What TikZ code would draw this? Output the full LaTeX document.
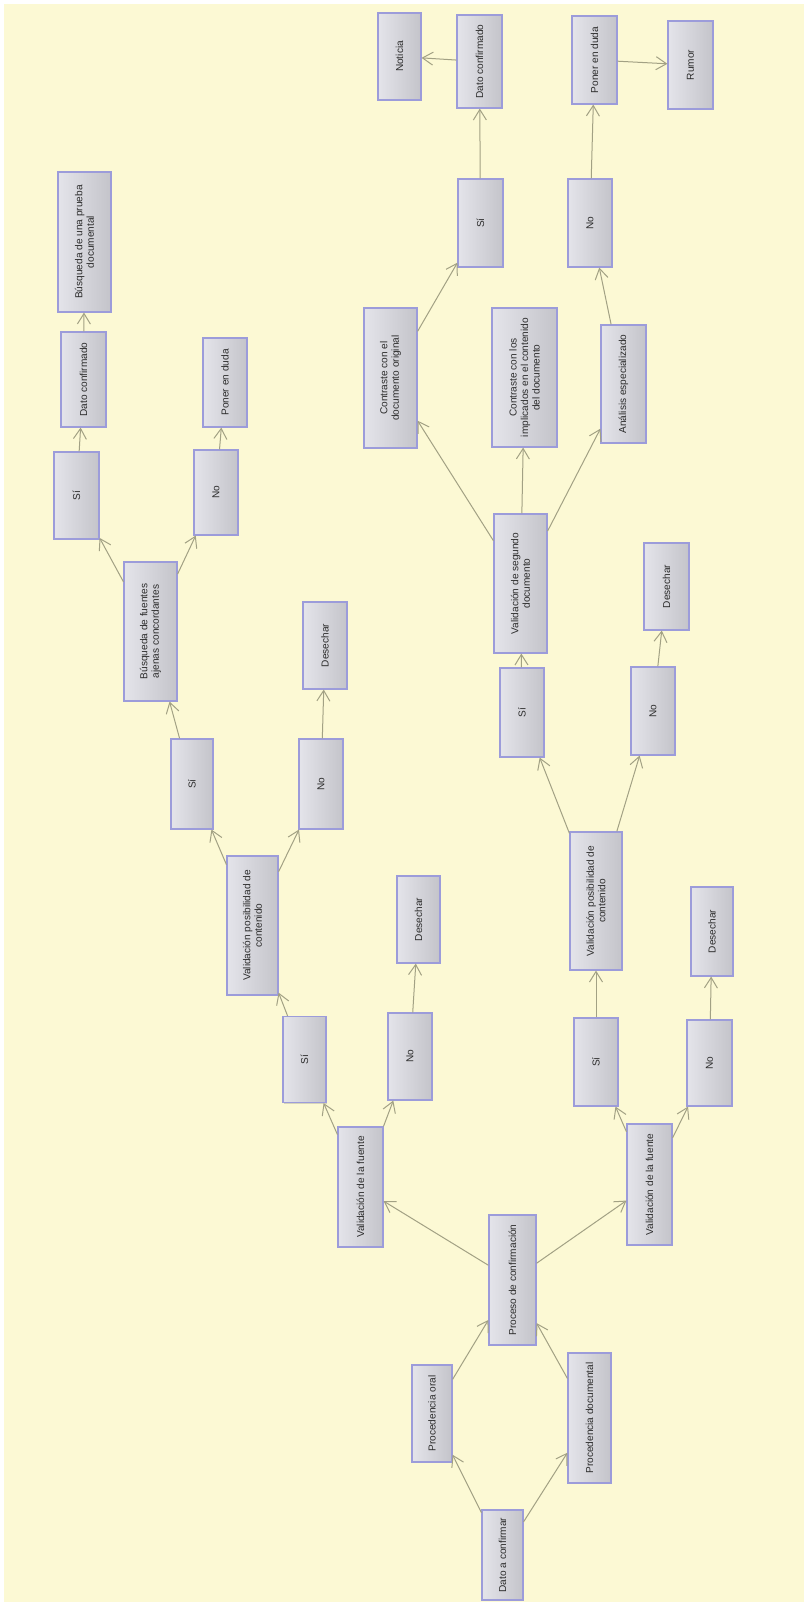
\documentclass[tikz,border=0pt]{standalone}
\usepackage{fontspec}
\setmainfont{Liberation Sans}
\usepackage{tikz}
\usetikzlibrary{arrows.meta,shadows}
\definecolor{fondo}{HTML}{FCF9D4}
\definecolor{borde}{HTML}{9C9CDA}
\definecolor{flechagris}{HTML}{A2A184}
\definecolor{texto}{HTML}{2C2C2C}
\definecolor{claro}{HTML}{E4E4EA}
\definecolor{sombra}{HTML}{C4C4CA}

\begin{document}
\begin{tikzpicture}[x=0.4mm,y=-0.4mm,
  caja/.style 2 args={draw=borde,line width=0.45mm,rotate=90,left color=claro,middle color=white,right color=sombra,
    drop shadow={shadow xshift=0.5mm,shadow yshift=-0.4mm,opacity=0.3},
    minimum height=#1*0.4mm,minimum width=#2*0.4mm,inner sep=0.8mm,align=center,
    font=\fontsize{11.5}{13}\selectfont,text=texto},
  flecha/.style={draw=flechagris,line width=0.4mm,-{Straight Barb[length=4.2mm,width=5.2mm]}}]
\useasboundingbox (0,0) rectangle (804,1602);
\fill[white] (0,0) rectangle (804,1602);
\fill[fondo] (4,4) rectangle (804,1602);

\node[caja={41}{90}] (dato) at (502.5,1555) {Dato a confirmar};
\node[caja={40}{97}] (oral) at (432,1413.5) {Procedencia oral};
\node[caja={43}{130}] (docum) at (589.5,1418) {Procedencia documental};
\node[caja={47}{130}] (proceso) at (512.5,1280) {Proceso de confirmación};

\node[caja={45}{120}] (fuenteA) at (360.5,1187) {Validación de la fuente};
\node[caja={43}{86}] (siA) at (304.5,1059.5) {Sí};
\node[caja={44}{87}] (noA) at (410,1056.5) {No};
\node[caja={43}{87}] (desA) at (418.5,919.5) {Desechar};
\node[caja={51}{139}] (posibA) at (252.5,925.5) {Validación posibilidad de\\contenido};
\node[caja={42}{90}] (siB) at (192,784) {Sí};
\node[caja={44}{90}] (noB) at (321,784) {No};
\node[caja={44}{87}] (desB) at (325,645.5) {Desechar};
\node[caja={53}{139}] (busqueda) at (150.5,631.5) {Búsqueda de fuentes\\ajenas concordantes};
\node[caja={45}{87}] (siC) at (76.5,495.5) {Sí};
\node[caja={44}{85}] (noC) at (216,492.5) {No};
\node[caja={45}{95}] (confA) at (83.5,379.5) {Dato confirmado};
\node[caja={44}{89}] (dudaA) at (225,382.5) {Poner en duda};
\node[caja={53}{140}] (prueba) at (84.5,242) {Búsqueda de una prueba\\documental};

\node[caja={45}{121}] (fuenteB) at (649.5,1184.5) {Validación de la fuente};
\node[caja={44}{88}] (siD) at (596,1062) {Sí};
\node[caja={45}{86}] (noD) at (709.5,1063) {No};
\node[caja={42}{89}] (desD) at (712,931.5) {Desechar};
\node[caja={52}{138}] (posibB) at (596,901) {Validación posibilidad de\\contenido};
\node[caja={44}{89}] (siE) at (522,712.5) {Sí};
\node[caja={44}{88}] (noE) at (653,711) {No};
\node[caja={45}{87}] (desE) at (666.5,586.5) {Desechar};
\node[caja={53}{139}] (segundo) at (520.5,583.5) {Validación de segundo\\documento};
\node[caja={53}{140}] (original) at (390.5,378) {Contraste con el\\documento original};
\node[caja={65}{139}] (implicados) at (524.5,377.5) {Contraste con los\\implicados en el contenido\\del documento};
\node[caja={45}{118}] (analisis) at (623.5,384) {Análisis especializado};
\node[caja={45}{88}] (siF) at (480.5,223) {Sí};
\node[caja={44}{88}] (noF) at (590,223) {No};
\node[caja={45}{93}] (confB) at (479.5,61.5) {Dato confirmado};
\node[caja={43}{87}] (noticia) at (399.5,56.5) {Noticia};
\node[caja={45}{88}] (dudaB) at (594.5,60) {Poner en duda};
\node[caja={45}{88}] (rumor) at (690.5,65) {Rumor};

\draw[flecha] (dato) -- (oral);
\draw[flecha] (dato) -- (docum);
\draw[flecha] (oral) -- (proceso);
\draw[flecha] (docum) -- (proceso);
\draw[flecha] (proceso) -- (fuenteA);
\draw[flecha] (proceso) -- (fuenteB);
\draw[flecha] (fuenteA) -- (siA);
\draw[flecha] (fuenteA) -- (noA);
\draw[flecha] (noA) -- (desA);
\draw[flecha] (siA) -- (posibA);
\draw[flecha] (posibA) -- (siB);
\draw[flecha] (posibA) -- (noB);
\draw[flecha] (noB) -- (desB);
\draw[flecha] (siB) -- (busqueda);
\draw[flecha] (busqueda) -- (siC);
\draw[flecha] (busqueda) -- (noC);
\draw[flecha] (siC) -- (confA);
\draw[flecha] (noC) -- (dudaA);
\draw[flecha] (confA) -- (prueba);
\draw[flecha] (fuenteB) -- (siD);
\draw[flecha] (fuenteB) -- (noD);
\draw[flecha] (noD) -- (desD);
\draw[flecha] (siD) -- (posibB);
\draw[flecha] (posibB) -- (siE);
\draw[flecha] (posibB) -- (noE);
\draw[flecha] (noE) -- (desE);
\draw[flecha] (siE) -- (segundo);
\draw[flecha] (segundo) -- (original);
\draw[flecha] (segundo) -- (implicados);
\draw[flecha] (segundo) -- (analisis);
\draw[flecha] (original) -- (siF);
\draw[flecha] (analisis) -- (noF);
\draw[flecha] (siF) -- (confB);
\draw[flecha] (confB) -- (noticia);
\draw[flecha] (noF) -- (dudaB);
\draw[flecha] (dudaB) -- (rumor);
\end{tikzpicture}
\end{document}
